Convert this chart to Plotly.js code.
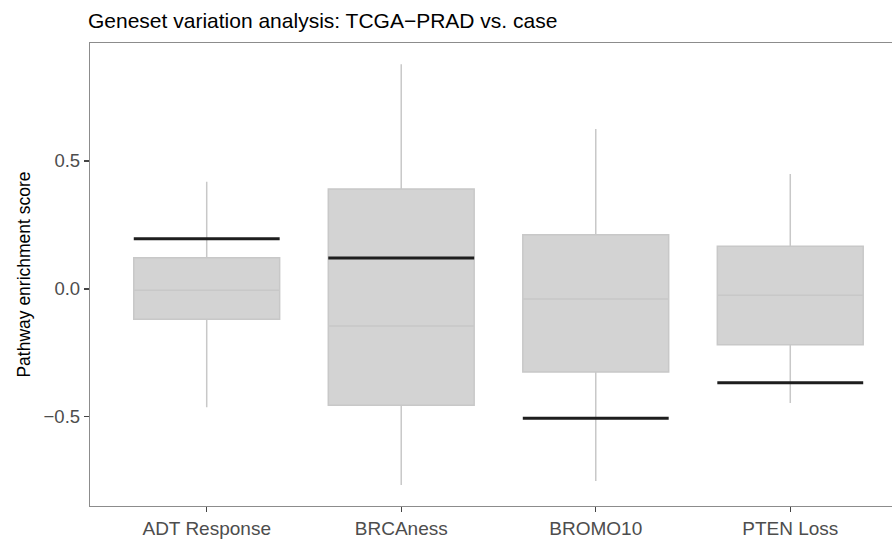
<!DOCTYPE html>
<html>
<head>
<meta charset="utf-8">
<script src="https://cdn.plot.ly/plotly-3.0.1.min.js"></script>
<style>html,body{margin:0;padding:0;background:#fff;}#chart{width:892px;height:539px;}</style>
</head>
<body>
<div id="chart"></div>
<script>
// Data
var categories = ["ADT Response", "BRCAness", "BROMO10", "PTEN Loss"];
var lowerWhisker = [-0.462, -0.766, -0.750, -0.446];
var q1Values = [-0.118, -0.454, -0.324, -0.218];
var medianValues = [-0.005, -0.145, -0.039, -0.025];
var q3Values = [0.122, 0.391, 0.212, 0.167];
var upperWhisker = [0.419, 0.878, 0.625, 0.449];
var caseValues = [0.196, 0.121, -0.505, -0.366];
var tickValues = [-0.5, 0.0, 0.5];
var tickLabels = ["\u22120.5", "0.0", "0.5"];

var font = "Liberation Sans, Arial, Helvetica, sans-serif";

var boxTrace = {
  type: "box",
  x: categories,
  q1: q1Values,
  median: medianValues,
  q3: q3Values,
  lowerfence: lowerWhisker,
  upperfence: upperWhisker,
  width: 0.75,
  whiskerwidth: 0,
  fillcolor: "#d3d3d3",
  line: {color: "#c8c8c8", width: 1.5},
  hoverinfo: "skip",
  showlegend: false
};

var caseTrace = {
  type: "box",
  x: categories,
  q1: caseValues,
  median: caseValues,
  q3: caseValues,
  lowerfence: caseValues,
  upperfence: caseValues,
  width: 0.75,
  whiskerwidth: 0,
  fillcolor: "rgba(0,0,0,0)",
  line: {color: "#1e1e1e", width: 3},
  hoverinfo: "skip",
  showlegend: false
};

var layout = {
  width: 892,
  height: 539,
  margin: {l: 90, r: 0, t: 43, b: 33},
  paper_bgcolor: "#ffffff",
  plot_bgcolor: "#ffffff",
  boxmode: "overlay",
  font: {family: font},
  title: {
    text: "Geneset variation analysis: TCGA\u2212PRAD vs. case",
    font: {family: font, size: 21, color: "#000000"},
    x: 88 / 892, xanchor: "left", xref: "container",
    y: 1 - 21 / 539, yanchor: "middle", yref: "container"
  },
  xaxis: {
    type: "category",
    range: [-0.6, 3.523],
    showgrid: false,
    zeroline: false,
    showline: true,
    linecolor: "#8c8c8c",
    linewidth: 1.2,
    mirror: true,
    ticks: "outside",
    ticklen: 5,
    tickwidth: 1.1,
    tickcolor: "#444444",
    tickfont: {family: font, size: 19, color: "#4d4d4d"},
    fixedrange: true
  },
  yaxis: {
    range: [-0.848, 0.961],
    tickvals: tickValues,
    ticktext: tickLabels,
    showgrid: false,
    zeroline: false,
    showline: true,
    linecolor: "#8c8c8c",
    linewidth: 1.2,
    ticks: "outside",
    ticklen: 5,
    tickwidth: 1.1,
    tickcolor: "#444444",
    tickfont: {family: font, size: 18.5, color: "#4d4d4d"},
    title: {text: "Pathway enrichment score", font: {family: font, size: 17.5, color: "#000000"}, standoff: 8},
    fixedrange: true
  }
};

Plotly.newPlot("chart", [boxTrace, caseTrace], layout, {displayModeBar: false, staticPlot: true});
</script>
</body>
</html>
